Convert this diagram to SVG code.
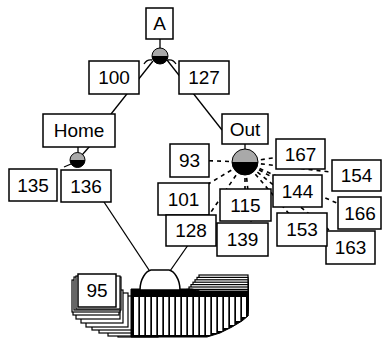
<svg xmlns="http://www.w3.org/2000/svg" width="382" height="341" viewBox="0 0 382 341">
<style>
.box{fill:#fff;stroke:#000;stroke-width:1.5}
.lbl{font-family:"Liberation Sans",Arial,sans-serif;font-size:19px;text-anchor:middle;fill:#000}
.ln{stroke:#000;stroke-width:1.3;fill:none}
.dash{stroke:#000;stroke-width:1.6;stroke-dasharray:4 4;fill:none}
.gray{fill:#a9a9a9;stroke:#000;stroke-width:1}
.blk{fill:#000}
.card{fill:#fff;stroke:#000;stroke-width:1.2}
.stripe{fill:#fff}
</style>
<rect width="382" height="341" fill="#fff"/>
<g id="connectors">
  <line class="ln" x1="160" y1="39" x2="160" y2="49"/>
  <line class="ln" x1="153" y1="61" x2="111" y2="114"/>
  <line class="ln" x1="167" y1="60" x2="222" y2="130"/>
  <path class="ln" d="M144,64 Q147,59 152,60 M168,60 Q173,59 176,64"/>
  <line class="ln" x1="78" y1="147" x2="78" y2="153"/>
  <line class="ln" x1="90" y1="146" x2="82" y2="155"/>
  <line class="ln" x1="64" y1="167" x2="71" y2="164"/>
  <line class="ln" x1="104" y1="202" x2="149" y2="270"/>
  <line class="ln" x1="245" y1="144" x2="245" y2="149"/>
  <line class="dash" x1="245" y1="162" x2="189" y2="160"/>
  <line class="dash" x1="245" y1="162" x2="300" y2="154"/>
  <line class="dash" x1="245" y1="162" x2="356" y2="175"/>
  <line class="dash" x1="245" y1="162" x2="297" y2="191"/>
  <line class="dash" x1="245" y1="162" x2="359" y2="213"/>
  <line class="dash" x1="245" y1="162" x2="302" y2="229"/>
  <line class="dash" x1="245" y1="162" x2="350" y2="247"/>
  <line class="dash" x1="245" y1="162" x2="183" y2="199"/>
  <line class="dash" x1="245" y1="162" x2="245" y2="205"/>
  <line class="dash" x1="245" y1="162" x2="252" y2="230"/>
  <line class="dash" x1="245" y1="162" x2="209" y2="215"/>
  <line class="ln" x1="209" y1="215" x2="170" y2="271"/>
</g>
<g id="node-A">
  <rect class="box" x="146" y="8" width="27" height="31"/>
  <text class="lbl" x="159.5" y="30.3">A</text>
</g>
<g id="node-A-join">
  <circle class="gray" cx="160" cy="56" r="8"/>
  <path class="blk" d="M152,56 A8,8 0 0 0 168,56 Z"/>
</g>
<g id="node-100"><rect class="box" x="89" y="61" width="50" height="33"/><text class="lbl" x="114" y="84.3">100</text></g>
<g id="node-127"><rect class="box" x="179" y="61" width="50" height="33"/><text class="lbl" x="204" y="84.3">127</text></g>
<g id="node-Home"><rect class="box" x="43" y="114" width="72" height="33"/><text class="lbl" x="79" y="137.3">Home</text></g>
<g id="node-Home-join">
  <circle class="gray" cx="77.5" cy="160" r="7.5"/>
  <path class="blk" d="M70,160 A7.5,7.5 0 0 0 85,160 Z"/>
</g>
<g id="node-Out"><rect class="box" x="222" y="114" width="46" height="30"/><text class="lbl" x="245" y="135.8">Out</text></g>
<g id="node-Out-join">
  <circle class="gray" cx="245" cy="162" r="13"/>
  <path class="blk" d="M232,162 A13,13 0 0 0 258,162 Z"/>
</g>
<g id="node-135"><rect class="box" x="9" y="169" width="48" height="32"/><text class="lbl" x="33" y="191.8">135</text></g>
<g id="node-136"><rect class="box" x="61" y="170" width="50" height="32"/><text class="lbl" x="86" y="192.8">136</text></g>
<g id="node-93"><rect class="box" x="170" y="144" width="39" height="33"/><text class="lbl" x="189.5" y="167.3">93</text></g>
<g id="node-167"><rect class="box" x="276" y="139" width="49" height="30"/><text class="lbl" x="300.5" y="160.8">167</text></g>
<g id="node-154"><rect class="box" x="332" y="160" width="49" height="31"/><text class="lbl" x="356.5" y="182.3">154</text></g>
<g id="node-144"><rect class="box" x="273" y="175" width="49" height="32"/><text class="lbl" x="297.5" y="197.8">144</text></g>
<g id="node-166"><rect class="box" x="338" y="197" width="43" height="32"/><text class="lbl" x="360" y="219.8">166</text></g>
<g id="node-163"><rect class="box" x="326" y="231" width="49" height="33"/><text class="lbl" x="350.5" y="254.3">163</text></g>
<g id="node-153"><rect class="box" x="277" y="213" width="50" height="33"/><text class="lbl" x="302" y="236.3">153</text></g>
<g id="node-101"><rect class="box" x="158" y="183" width="51" height="32"/><text class="lbl" x="183.5" y="205.8">101</text></g>
<g id="node-115"><rect class="box" x="220" y="189" width="51" height="32"/><text class="lbl" x="245.5" y="211.8">115</text></g>
<g id="node-128"><rect class="box" x="166" y="215" width="50" height="31"/><text class="lbl" x="191" y="237.3">128</text></g>
<g id="node-139"><rect class="box" x="217" y="223" width="51" height="33"/><text class="lbl" x="242.5" y="246.3">139</text></g>
<g id="node-fan">
  <rect class="card" x="199" y="275" width="49" height="26"/>
  <rect class="card" x="197" y="277.4" width="51" height="26"/>
  <rect class="card" x="195" y="279.8" width="53" height="26"/>
  <rect class="card" x="193" y="282.2" width="55" height="26"/>
  <rect class="card" x="191" y="284.6" width="57" height="26"/>
  <rect class="card" x="189" y="287" width="59" height="26"/>
  <rect class="card" x="187" y="289.4" width="61" height="26"/>
  <rect class="card" x="118" y="304" width="40" height="33"/>
  <rect class="card" x="108" y="302" width="42" height="34"/>
  <rect class="card" x="99" y="299" width="42" height="34"/>
  <rect class="card" x="92" y="296" width="42" height="34"/>
  <rect class="card" x="86" y="293" width="42" height="34"/>
  <rect class="card" x="81" y="290" width="42" height="33"/>
  <rect class="card" x="76" y="286" width="44" height="33"/>
  <rect class="card" x="73" y="283" width="46" height="32"/>
  <rect class="card" x="72" y="280" width="48" height="32"/>
  <rect class="card" x="74" y="277" width="47" height="33"/>
  <rect class="card" x="76" y="276" width="44" height="33"/>
  <path class="blk" stroke="#000" stroke-width="1" d="M131,289 L192,289 L200,291 L248,291 L248,316 L242,321 L232,327 L220,333 L207,337 L131,337 Z"/>
  <rect class="stripe" x="134" y="297" width="4.3" height="38"/>
  <rect class="stripe" x="140" y="297" width="4.3" height="38"/>
  <rect class="stripe" x="146" y="297" width="4.3" height="38"/>
  <rect class="stripe" x="152" y="297" width="4.3" height="38"/>
  <rect class="stripe" x="158" y="297" width="4.3" height="38"/>
  <rect class="stripe" x="164" y="297" width="4.3" height="38"/>
  <rect class="stripe" x="170" y="297" width="4.3" height="38"/>
  <rect class="stripe" x="176" y="297" width="4.3" height="38"/>
  <rect class="stripe" x="182" y="297" width="4.3" height="38"/>
  <rect class="stripe" x="188" y="297" width="4.3" height="38"/>
  <rect class="stripe" x="194" y="297" width="4.3" height="38"/>
  <rect class="stripe" x="200" y="297" width="4.3" height="38"/>
  <rect class="stripe" x="206" y="297" width="4.3" height="38"/>
  <rect class="stripe" x="212" y="297" width="4.3" height="36"/>
  <rect class="stripe" x="218" y="297" width="4.3" height="34"/>
  <rect class="stripe" x="224" y="297" width="4.3" height="31"/>
  <rect class="stripe" x="230" y="297" width="4.3" height="28"/>
  <rect class="stripe" x="236" y="297" width="4.3" height="24"/>
  <rect class="stripe" x="242" y="297" width="4" height="20"/>
  <rect class="box" x="78" y="274" width="38" height="33"/>
  <text class="lbl" x="97" y="297.3">95</text>
  <path class="box" d="M140,290 C140,279 146,271 151,270 L169,270 C174,271 180,279 180,290 Z"/>
</g>
</svg>
